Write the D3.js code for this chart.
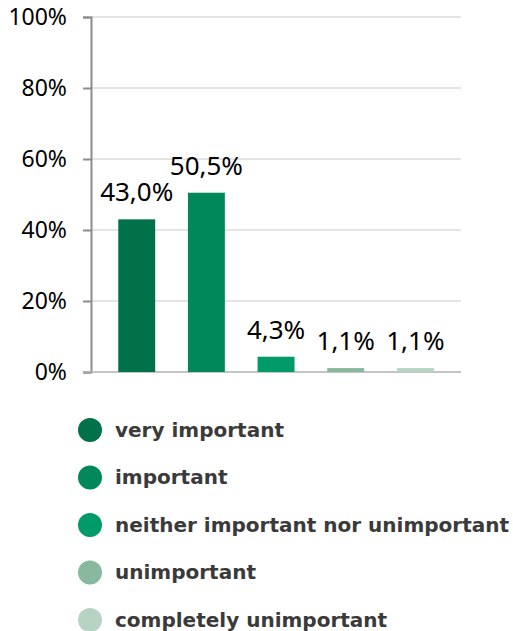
<!DOCTYPE html>
<html>
<head>
<meta charset="utf-8">
<script src="https://cdn.jsdelivr.net/npm/d3@7"></script>
<style>
  html, body { margin: 0; padding: 0; background: #fff; }
  svg { display: block; }
</style>
</head>
<body>
<svg id="chart" width="513" height="631"></svg>
<script>
// Survey answers and their shares (percent)
const categories = ["very important", "important", "neither important nor unimportant", "unimportant", "completely unimportant"];
const values = [43.0, 50.5, 4.3, 1.1, 1.1];
const colors = ["#007148", "#00885A", "#009B68", "#88B89E", "#B7D3C4"];
const yTicks = [0, 20, 40, 60, 80, 100];

const svg = d3.select("#chart");
const fmt = v => d3.format(".1f")(v).replace(".", ",") + "%";

const axisX = 91, gridRight = 461;
const y = d3.scaleLinear().domain([0, 100]).range([372, 17]);
const x = d3.scaleBand().domain(categories).range([101.9, 450.2])
  .paddingInner(0.47).paddingOuter(0.235);

// Gridlines
svg.append("g").selectAll("line").data(yTicks.filter(t => t > 0)).join("line")
  .attr("x1", axisX).attr("x2", gridRight)
  .attr("y1", d => y(d)).attr("y2", d => y(d))
  .attr("stroke", "#c9c9c9").attr("stroke-width", 1);

// Y axis
const yAxis = d3.axisLeft(y).tickValues(yTicks).tickSize(8).tickPadding(16)
  .tickFormat(d => d + "%");
const gy = svg.append("g").attr("transform", `translate(${axisX},0)`).call(yAxis);
gy.select(".domain").attr("stroke", "#8c8c8c").attr("stroke-width", 2);
gy.selectAll(".tick line").attr("stroke", "#8c8c8c").attr("stroke-width", 2);
gy.selectAll(".tick text").attr("fill", "#000")
  .style("font-family", "'Noto Sans', sans-serif").style("font-size", "23px");

// Baseline
svg.append("line").attr("x1", axisX - 8).attr("x2", gridRight)
  .attr("y1", y(0)).attr("y2", y(0)).attr("stroke", "#b0b0b0").attr("stroke-width", 1.5);

// Bars
svg.append("g").selectAll("rect").data(values).join("rect")
  .attr("x", (d, i) => x(categories[i]))
  .attr("width", x.bandwidth())
  .attr("y", d => y(d))
  .attr("height", d => y(0) - y(d))
  .attr("fill", (d, i) => colors[i]);

// Value labels
svg.append("g").selectAll("text").data(values).join("text")
  .attr("x", (d, i) => x(categories[i]) + x.bandwidth() / 2)
  .attr("y", d => y(d) - 18)
  .attr("text-anchor", "middle")
  .style("font-family", "'Noto Sans', sans-serif").style("font-size", "26px")
  .attr("fill", "#000")
  .text(fmt);

// Legend
const legend = svg.append("g").selectAll("g").data(categories).join("g")
  .attr("transform", (d, i) => `translate(90,${430 + i * 47.5})`);
legend.append("circle").attr("r", 12).attr("fill", (d, i) => colors[i]);
legend.append("text").attr("x", 25).attr("dy", "0.33em")
  .style("font-family", "'DejaVu Sans', sans-serif").style("font-size", "20px")
  .style("font-weight", "bold").attr("fill", "#3a3a3a")
  .text(d => d);
</script>
</body>
</html>
